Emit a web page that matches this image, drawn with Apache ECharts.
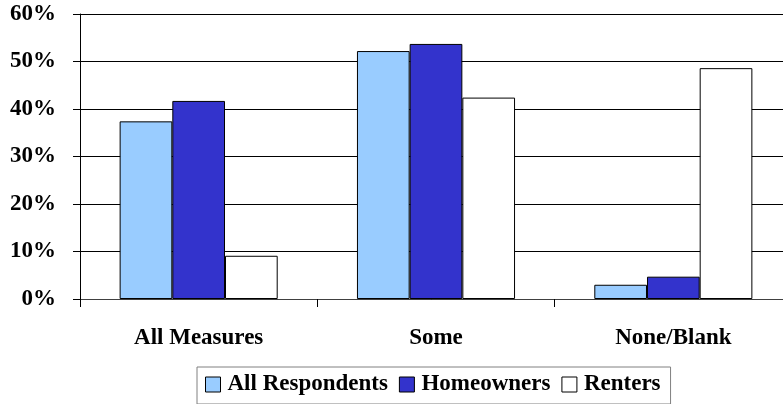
<!DOCTYPE html>
<html>
<head>
<meta charset="utf-8">
<style>
  html, body { margin: 0; padding: 0; background: #fff; }
  #chart { width: 783px; height: 404px; }
</style>
<script src="https://cdn.jsdelivr.net/npm/echarts@6/dist/echarts.min.js"></script>
</head>
<body>
<div id="chart"></div>
<script>
// Share of respondents by response group
const categories = ['All Measures', 'Some', 'None/Blank'];
const allRespondents = [37.4, 52.2, 3.0];
const homeowners = [41.7, 53.7, 4.7];
const renters = [9.1, 42.4, 48.6];
const yTicks = [0, 10, 20, 30, 40, 50, 60];

const FONT = '"Liberation Serif", "Times New Roman", serif';
const FS = 23;

function barSeries(name, data, color) {
  return {
    name: name,
    type: 'bar',
    data: data,
    barGap: '0%',
    barCategoryGap: '33.4%',
    itemStyle: { color: color, borderColor: '#000', borderWidth: 1 },
    emphasis: { disabled: true }
  };
}

const chart = echarts.init(document.getElementById('chart'), null, { renderer: 'canvas' });
chart.setOption({
  animation: false,
  backgroundColor: '#ffffff',
  grid: {
    left: 80, top: 14, width: 712, height: 285,
    containLabel: false, outerBoundsMode: 'none'
  },
  legend: {
    left: 197,
    top: 367,
    padding: [6, 10, 8, 8],
    borderColor: '#808080',
    borderWidth: 1,
    itemWidth: 15,
    itemHeight: 15,
    itemGap: 11,
    icon: 'rect',
    itemStyle: { borderColor: '#000', borderWidth: 1 },
    textStyle: { fontFamily: FONT, fontWeight: 'bold', fontSize: FS, color: '#000', padding: [0, 0, 0, 2] },
    data: ['All Respondents', 'Homeowners', 'Renters']
  },
  xAxis: {
    type: 'category',
    data: categories,
    axisLine: { lineStyle: { color: '#404040', width: 1 } },
    axisTick: { show: true, length: 8, lineStyle: { color: '#000' } },
    axisLabel: { fontFamily: FONT, fontWeight: 'bold', fontSize: FS, color: '#000', margin: 28 }
  },
  yAxis: {
    type: 'value',
    min: yTicks[0],
    max: yTicks[yTicks.length - 1],
    interval: 10,
    axisLine: { show: true, lineStyle: { color: '#000', width: 1 } },
    axisTick: { show: true, inside: false, length: 7, lineStyle: { color: '#000' } },
    splitLine: { show: true, lineStyle: { color: '#000', width: 1 } },
    axisLabel: {
      fontFamily: FONT, fontWeight: 'bold', fontSize: FS, color: '#000', margin: 24,
      formatter: v => v + '%'
    }
  },
  series: [
    barSeries('All Respondents', allRespondents, '#99CCFF'),
    barSeries('Homeowners', homeowners, '#3333CC'),
    barSeries('Renters', renters, '#FFFFFF')
  ]
});
</script>
</body>
</html>
